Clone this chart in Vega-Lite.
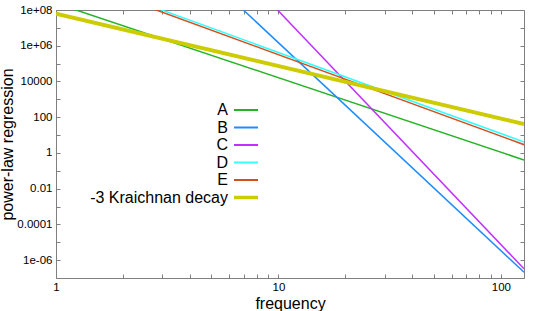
{
  "$schema": "https://vega.github.io/schema/vega-lite/v6.json",
  "width": 468,
  "height": 268,
  "autosize": {"type": "none"},
  "padding": {"left": 56, "top": 10, "right": 15, "bottom": 33},
  "background": "white",
  "config": {
    "view": {"stroke": "#7f7f7f", "strokeWidth": 1},
    "font": "Liberation Sans",
    "axis": {"domain": false, "grid": false, "tickColor": "#7f7f7f", "tickWidth": 1, "tickSize": -4, "labelFont": "Liberation Sans", "labelFontSize": 11.5, "labelColor": "black", "titleFont": "Liberation Sans", "titleFontSize": 16, "titleFontWeight": "normal", "titleColor": "black"}
  },
  "data": {"values": [
    {"series": "A", "f": 1, "p": 2.37e8},
    {"series": "A", "f": 127, "p": 0.404},
    {"series": "B", "f": 6, "p": 5.6e8},
    {"series": "B", "f": 127, "p": 2.1e-7},
    {"series": "C", "f": 9, "p": 3.5e8},
    {"series": "C", "f": 127, "p": 3.3e-7},
    {"series": "D", "f": 2, "p": 6.2e8},
    {"series": "D", "f": 127, "p": 4.1},
    {"series": "E", "f": 2, "p": 4.8e8},
    {"series": "E", "f": 127, "p": 2.9},
    {"series": "-3 Kraichnan decay", "f": 1, "p": 6.3e7},
    {"series": "-3 Kraichnan decay", "f": 127, "p": 41.7}
  ]},
  "layer": [
    {
      "mark": {"type": "line", "clip": true},
      "encoding": {
        "x": {"field": "f", "type": "quantitative", "scale": {"type": "log", "domain": [1, 127], "nice": false},
          "axis": {"orient": "bottom", "title": "frequency", "values": [1,2,3,4,5,6,7,8,9,10,20,30,40,50,60,70,80,90,100],
            "labelExpr": "(datum.value == 1 || datum.value == 10 || datum.value == 100) ? datum.label : ''", "labelPadding": 7, "titlePadding": 3, "labelFlush": false, "labelOverlap": false}},
        "y": {"field": "p", "type": "quantitative", "scale": {"type": "log", "domain": [1e-7, 1e8], "nice": false},
          "axis": {"orient": "left", "title": "power-law regression", "values": [1e-7,1e-6,1e-5,1e-4,1e-3,1e-2,1e-1,1,10,100,1000,10000,1e5,1e6,1e7,1e8],
            "labelExpr": "abs(round(log(datum.value)/LN10)) % 2 == 1 ? '' : (datum.value == 1e8 ? '1e+08' : datum.value == 1e6 ? '1e+06' : datum.value == 1e-6 ? '1e-06' : format(datum.value, ''))",
            "labelPadding": 8, "titlePadding": 1, "labelFlush": false, "labelOverlap": false}},
        "color": {"field": "series", "type": "nominal",
          "scale": {"domain": ["A", "B", "C", "D", "E", "-3 Kraichnan decay"], "range": ["#22b422", "#1e8cff", "#c030ff", "#33ffff", "#d2501e", "#cccc00"]},
          "legend": {"title": null, "orient": "none", "legendX": 182, "legendY": 92, "symbolType": "stroke", "symbolSize": 576, "symbolStrokeWidth": 2,
            "labelAlign": "right", "labelOffset": -26, "labelFontSize": 16, "labelFont": "Liberation Sans", "labelColor": "black",
            "rowPadding": 1.5, "symbolOpacity": 1, "labelLimit": 300,
            "encode": {"symbols": {"update": {"strokeWidth": {"signal": "datum.value == '-3 Kraichnan decay' ? 3.5 : 2"}}}}}},
        "strokeWidth": {"condition": {"test": "datum.series == '-3 Kraichnan decay'", "value": 4}, "value": 1.5}
      }
    },
    {
      "mark": {"type": "line", "strokeOpacity": 0, "clip": true},
      "encoding": {
        "x": {"field": "f", "type": "quantitative", "scale": {"type": "log", "domain": [1, 127], "nice": false},
          "axis": {"orient": "top", "title": null, "labels": false, "values": [1,2,3,4,5,6,7,8,9,10,20,30,40,50,60,70,80,90,100]}},
        "y": {"field": "p", "type": "quantitative", "scale": {"type": "log", "domain": [1e-7, 1e8], "nice": false},
          "axis": {"orient": "right", "title": null, "labels": false, "values": [1e-7,1e-6,1e-5,1e-4,1e-3,1e-2,1e-1,1,10,100,1000,10000,1e5,1e6,1e7,1e8]}},
        "detail": {"field": "series", "type": "nominal"}
      }
    }
  ]
}
